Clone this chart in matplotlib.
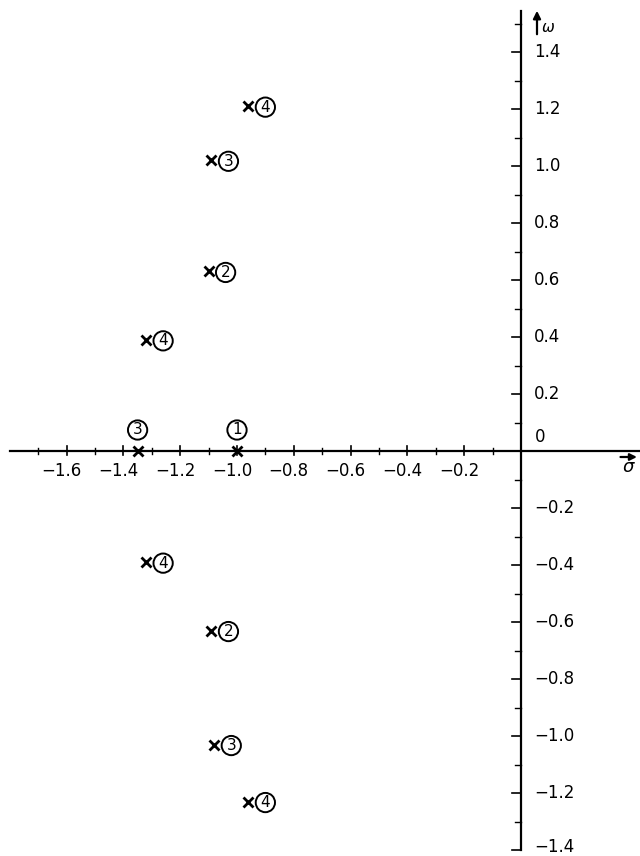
import matplotlib
matplotlib.use('Agg')
import numpy as np
import matplotlib.pyplot as plt

# pole positions (sigma, omega) and the filter order of each
pole_sigma = [-1.00, -1.10, -1.09, -1.35, -1.09, -1.08, -1.32, -1.32, -0.96, -0.96]
pole_omega = [0.00, 0.63, -0.63, 0.00, 1.02, -1.03, 0.39, -0.39, 1.21, -1.23]
pole_order = [1, 2, 2, 3, 3, 3, 4, 4, 4, 4]

x_major = [-1.6, -1.4, -1.2, -1.0, -0.8, -0.6, -0.4, -0.2]
x_minor = [-1.7, -1.5, -1.3, -1.1, -0.9, -0.7, -0.5, -0.3, -0.1]
y_major = [1.4, 1.2, 1.0, 0.8, 0.6, 0.4, 0.2, -0.2, -0.4, -0.6, -0.8, -1.0, -1.2, -1.4]
y_minor = [1.5, 1.3, 1.1, 0.9, 0.7, 0.5, 0.3, 0.1, -0.1, -0.3, -0.5, -0.7, -0.9, -1.1, -1.3]


def fmt(v):
    s = f'{abs(v):.1f}'
    return ('\u2212' + s) if v < 0 else s


plt.rcParams['font.family'] = ['DejaVu Sans']
fig = plt.figure(figsize=(6.4, 8.56), dpi=100)
ax = fig.add_axes([0, 0, 1, 1])
px_x = 1 / 284   # data units per pixel
px_y = 1 / 285
ax.set_xlim(-521 * px_x, 119 * px_x)
ax.set_ylim(-405 * px_y, 451 * px_y)
ax.axis('off')

lw = 1.6
# axes lines
ax.plot([-1.80, 0.42], [0, 0], color='black', lw=lw)
ax.plot([0, 0], [-1.40, 1.545], color='black', lw=lw)

# x ticks
for v in x_major:
    ax.plot([v, v], [-4 * px_y, 5 * px_y], color='black', lw=1.2)
    ax.annotate(fmt(v), xy=(v, 0), xytext=(-5, -11), textcoords='offset pixels',
                ha='center', va='top', fontsize=12)
for v in x_minor:
    ax.plot([v, v], [-3 * px_y, 3 * px_y], color='black', lw=1.0)

# y ticks
for v in y_major:
    ax.plot([-9 * px_x, 0], [v, v], color='black', lw=1.2)
    dy = 3 if v == y_major[-1] else 0
    ax.annotate(fmt(v), xy=(0, v), xytext=(13, dy), textcoords='offset pixels',
                ha='left', va='center', fontsize=12)
for v in y_minor:
    ax.plot([-6 * px_x, 0], [v, v], color='black', lw=1.0)
ax.annotate('0', xy=(0, 0), xytext=(14, 14), textcoords='offset pixels',
            ha='left', va='center', fontsize=12)

# axis arrows and names
ax.annotate('', xy=(16 * px_x, 443 * px_y), xytext=(16 * px_x, 414 * px_y),
            arrowprops=dict(arrowstyle='-|>', color='black', lw=1.6, mutation_scale=11))
ax.annotate('\u03c9', xy=(27 * px_x, 424 * px_y), ha='center', va='center',
            fontsize=11, style='italic')
ax.annotate('', xy=(0.418, -6 * px_y), xytext=(-22, 0), textcoords='offset pixels',
            arrowprops=dict(arrowstyle='-|>', color='black', lw=1.6, mutation_scale=10))
ax.annotate('\u03c3', xy=(0.418, -6 * px_y), xytext=(-12, -10), textcoords='offset pixels',
            ha='center', va='center', fontsize=13, style='italic')

# poles
ax.plot(pole_sigma, pole_omega, linestyle='none', marker='x', markersize=7,
        mew=2.0, color='black', zorder=5)
for s, w, n in zip(pole_sigma, pole_omega, pole_order):
    if w == 0:
        off = (0, 21)
    else:
        off = (17, -1)
    ax.annotate(str(n), xy=(s, w), xytext=off, textcoords='offset pixels',
                ha='center', va='center', fontsize=11,
                bbox=dict(boxstyle='circle,pad=0.14', fc='white', ec='black', lw=1.4))

fig.savefig('out.png', dpi=100)
